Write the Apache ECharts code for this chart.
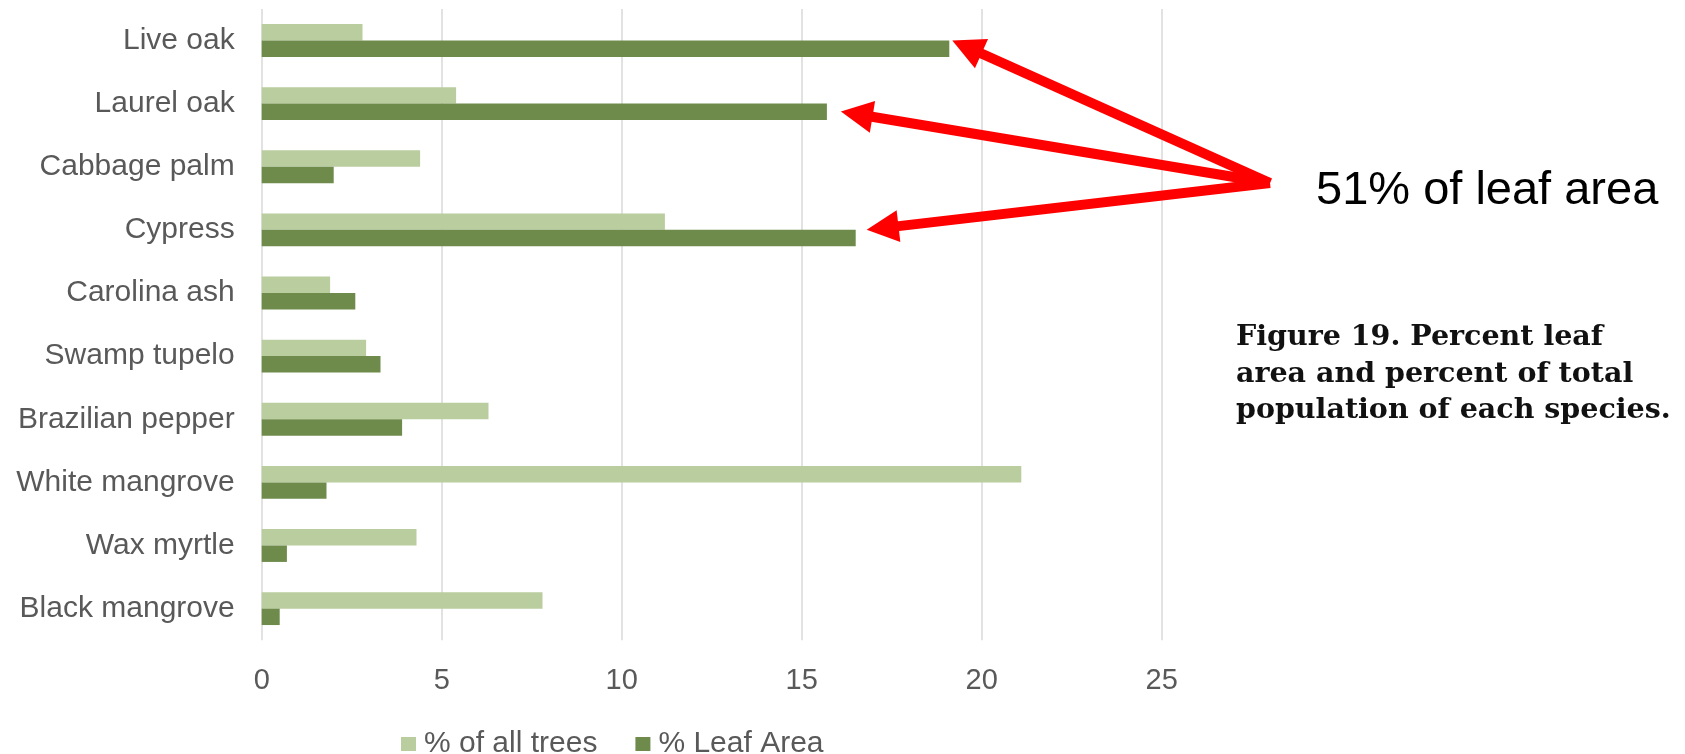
<!DOCTYPE html>
<html>
<head>
<meta charset="utf-8">
<script src="https://cdn.jsdelivr.net/npm/echarts@6/dist/echarts.min.js"></script>
<style>
  html, body { margin: 0; padding: 0; background: #ffffff; }
  #chart { width: 1685px; height: 754px; }
</style>
</head>
<body>
<div id="chart"></div>
<script>
// Species, top to bottom
const species = [
  'Live oak', 'Laurel oak', 'Cabbage palm', 'Cypress', 'Carolina ash',
  'Swamp tupelo', 'Brazilian pepper', 'White mangrove', 'Wax myrtle', 'Black mangrove'
];
// Share of all trees (%)
const pctAllTrees = [2.8, 5.4, 4.4, 11.2, 1.9, 2.9, 6.3, 21.1, 4.3, 7.8];
// Share of total leaf area (%)
const pctLeafArea = [19.1, 15.7, 2.0, 16.5, 2.6, 3.3, 3.9, 1.8, 0.7, 0.5];
const xTicks = [0, 5, 10, 15, 20, 25];
const seriesNames = ['% of all trees', '% Leaf Area'];

// Species called out by the arrows (together about 51% of the leaf area)
const highlighted = ['Live oak', 'Laurel oak', 'Cypress'];
const calloutText = '51% of leaf area';
const captionLines = [
  'Figure 19. Percent leaf',
  'area and percent of total',
  'population of each species.'
];

const LIGHT = '#bacd9f';
const DARK = '#6e8b4b';
const TEXT = '#595959';
const SANS = '"Liberation Sans", Arial, Helvetica, sans-serif';

const chart = echarts.init(document.getElementById('chart'));

chart.setOption({
  backgroundColor: '#ffffff',
  animation: false,
  grid: { left: 261.7, right: 523.3, top: 8.9, height: 631.3, containLabel: false },
  legend: {
    left: 396,
    top: 724,
    itemWidth: 15,
    itemHeight: 14,
    itemGap: 38,
    icon: 'rect',
    data: seriesNames,
    textStyle: { color: TEXT, fontFamily: SANS, fontSize: 30, padding: [0, 0, 0, 3] }
  },
  xAxis: {
    type: 'value',
    min: xTicks[0],
    max: xTicks[xTicks.length - 1],
    interval: xTicks[1] - xTicks[0],
    axisLine: { show: false },
    axisTick: { show: false },
    axisLabel: { color: TEXT, fontFamily: SANS, fontSize: 29, margin: 26 },
    splitLine: { show: true, lineStyle: { color: '#d9d9d9', width: 1.5 } }
  },
  yAxis: {
    type: 'category',
    data: species,
    inverse: true,
    axisLine: { show: false },
    axisTick: { show: false },
    axisLabel: { color: TEXT, fontFamily: SANS, fontSize: 30, margin: 27 },
    splitLine: { show: false }
  },
  series: [
    {
      name: seriesNames[0],
      type: 'bar',
      data: pctAllTrees,
      itemStyle: { color: LIGHT },
      barGap: '0%',
      barCategoryGap: '48%'
    },
    {
      name: seriesNames[1],
      type: 'bar',
      data: pctLeafArea,
      itemStyle: { color: DARK },
      barGap: '0%',
      barCategoryGap: '48%'
    }
  ]
});

// Callout arrows: shaft plus a triangular head, tips placed next to the leaf-area bars
const origin = [1270, 183];
const tipOffsets = { 'Live oak': [3, 0], 'Laurel oak': [14, 8], 'Cypress': [11, 0] };
const RED = '#ff0000';
const HEAD_LEN = 32;
const HEAD_HALF = 16;

function arrowElements(tip, from) {
  const dx = tip[0] - from[0];
  const dy = tip[1] - from[1];
  const len = Math.sqrt(dx * dx + dy * dy);
  const ux = dx / len, uy = dy / len;
  const base = [tip[0] - ux * HEAD_LEN, tip[1] - uy * HEAD_LEN];
  const px = -uy, py = ux;
  return [
    {
      type: 'line',
      shape: { x1: from[0], y1: from[1], x2: base[0] + ux * 2, y2: base[1] + uy * 2 },
      style: { stroke: RED, lineWidth: 10, lineCap: 'butt' },
      silent: true
    },
    {
      type: 'polygon',
      shape: {
        points: [
          tip,
          [base[0] + px * HEAD_HALF, base[1] + py * HEAD_HALF],
          [base[0] - px * HEAD_HALF, base[1] - py * HEAD_HALF]
        ]
      },
      style: { fill: RED },
      silent: true
    }
  ];
}

const graphics = [];
highlighted.forEach(function (name) {
  const idx = species.indexOf(name);
  const p = chart.convertToPixel({ gridIndex: 0 }, [pctLeafArea[idx], name]);
  const off = tipOffsets[name];
  graphics.push.apply(graphics, arrowElements([p[0] + off[0], p[1] + off[1]], origin));
});

graphics.push({
  type: 'text',
  x: 1316,
  y: 191,
  style: {
    text: calloutText,
    fill: '#000000',
    font: '47px ' + SANS,
    verticalAlign: 'middle',
    align: 'left'
  },
  silent: true
});

captionLines.forEach(function (line, i) {
  graphics.push({
    type: 'text',
    x: 1236,
    y: 337.5 + i * 36.7,
    style: {
      text: line,
      fill: '#111111',
      font: 'bold 28.5px "DejaVu Serif", Georgia, serif',
      verticalAlign: 'middle',
      align: 'left'
    },
    silent: true
  });
});

chart.setOption({ graphic: graphics });
</script>
</body>
</html>
